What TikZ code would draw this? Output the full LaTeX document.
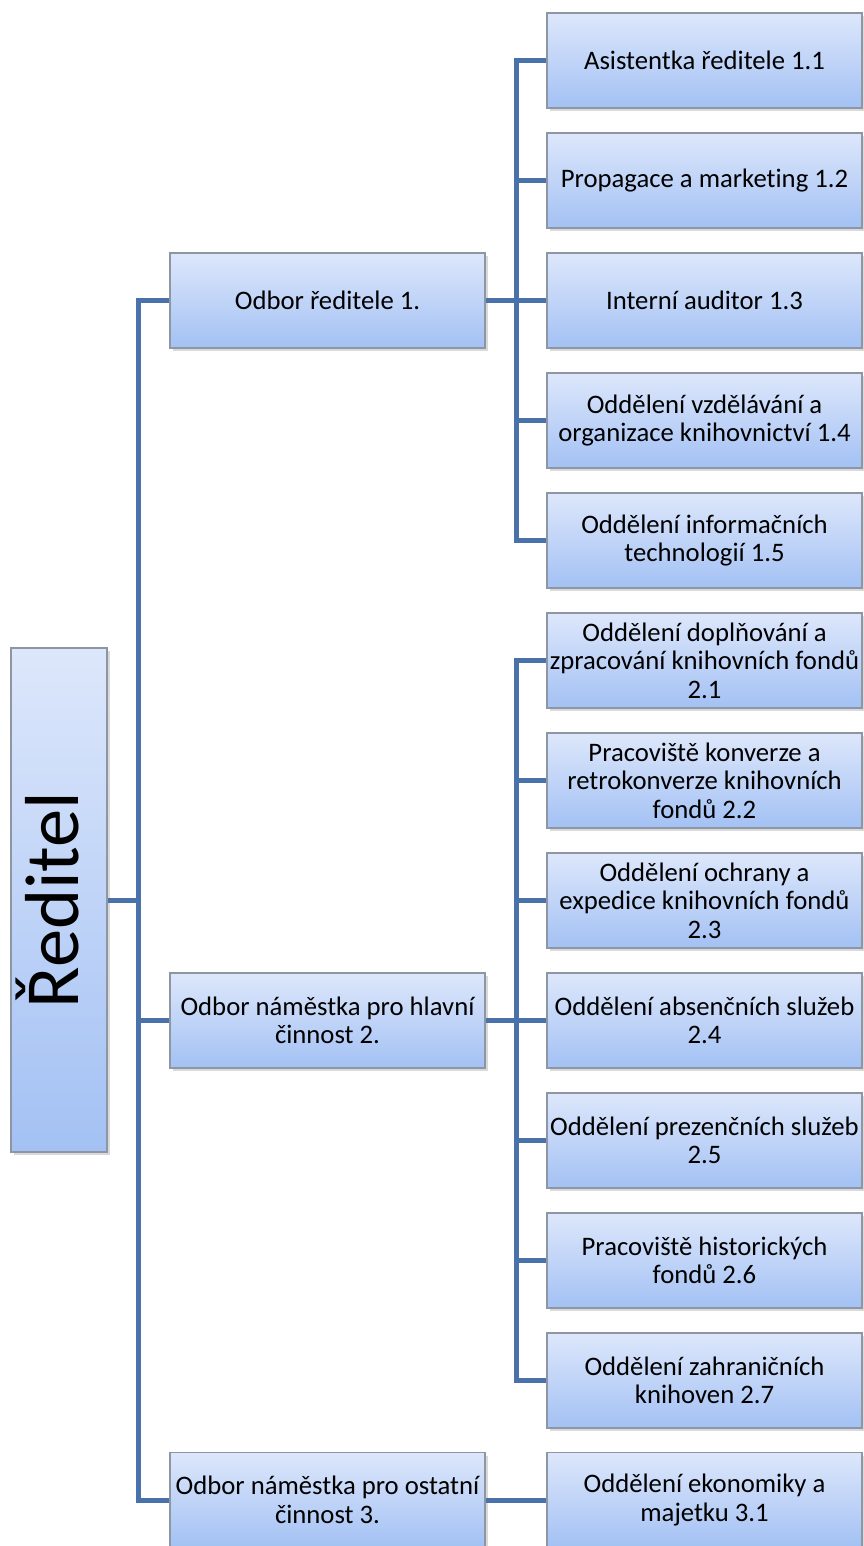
\documentclass[tikz,border=0pt]{standalone}
\usepackage{fontspec}
\setmainfont{Carlito}[Ligatures=NoCommon]
\usetikzlibrary{shadows, calc}
\definecolor{cline}{HTML}{4A72AA}
\definecolor{ctop}{HTML}{DDE7FB}
\definecolor{cbot}{HTML}{A3C1F4}
\definecolor{cedge}{HTML}{8E96A4}
\tikzset{
  unit/.style={draw=cedge, line width=1.3pt, top color=ctop, bottom color=cbot, align=center,
    minimum width=315pt, minimum height=95pt, inner xsep=0.5pt, inner ysep=0pt,
    font=\fontsize{26.7}{28.5}\selectfont,
    drop shadow={shadow xshift=2.5pt, shadow yshift=-3pt, opacity=0.3}},
  conn/.style={draw=cline, line width=5pt},
}

\begin{document}
\begin{tikzpicture}[x=1pt, y=-1pt]
  \useasboundingbox (0,0) rectangle (863,1546);

  % director
  \node[unit, minimum width=96pt, minimum height=504pt, font=\fontsize{76.5}{82}\selectfont] (dir) at (59,900)
    {\rotatebox{90}{\strut Ředitel}};

  % departments
  \node[unit] (odb1) at (327.5,300.5) {Odbor ředitele 1.};
  \node[unit] (odb2) at (327.5,1020.5) {Odbor náměstka pro hlavní\\činnost 2.};
  \node[unit] (odb3) at (327.5,1500) {Odbor náměstka pro ostatní\\činnost 3.};

  % units of 1.
  \node[unit] (d11) at (704.5,60.5) {Asistentka ředitele 1.1};
  \node[unit] (d12) at (704.5,180.5) {Propagace a marketing 1.2};
  \node[unit] (d13) at (704.5,300.5) {Interní auditor 1.3};
  \node[unit] (d14) at (704.5,420.5) {Oddělení vzdělávání a\\organizace knihovnictví 1.4};
  \node[unit] (d15) at (704.5,540.5) {Oddělení informačních\\technologií 1.5};

  % units of 2.
  \node[unit] (d21) at (704.5,660.5) {Oddělení doplňování a\\zpracování knihovních fondů\\2.1};
  \node[unit] (d22) at (704.5,780.5) {Pracoviště konverze a\\retrokonverze knihovních\\fondů 2.2};
  \node[unit] (d23) at (704.5,900.5) {Oddělení ochrany a\\expedice knihovních fondů\\2.3};
  \node[unit] (d24) at (704.5,1020.5) {Oddělení absenčních služeb\\2.4};
  \node[unit] (d25) at (704.5,1140.5) {Oddělení prezenčních služeb\\2.5};
  \node[unit] (d26) at (704.5,1260.5) {Pracoviště historických\\fondů 2.6};
  \node[unit] (d27) at (704.5,1380.5) {Oddělení zahraničních\\knihoven 2.7};

  % units of 3.
  \node[unit] (d31) at (704.5,1500) {Oddělení ekonomiky a\\majetku 3.1};

  % links
  \coordinate (main) at (138,900);
  \coordinate (bus1) at (516,300.5);
  \coordinate (bus2) at (516,1020.5);
  \draw[conn] (dir.east) -- (main);
  \foreach \n in {odb1, odb2, odb3}
    \draw[conn] (main) |- (\n.west);
  \draw[conn] (odb1.east) -- (bus1);
  \foreach \n in {d11, d12, d13, d14, d15}
    \draw[conn] (bus1) |- (\n.west);
  \draw[conn] (odb2.east) -- (bus2);
  \foreach \n in {d21, d22, d23, d24, d25, d26, d27}
    \draw[conn] (bus2) |- (\n.west);
  \draw[conn] (odb3.east) -- (d31.west);
\end{tikzpicture}
\end{document}
